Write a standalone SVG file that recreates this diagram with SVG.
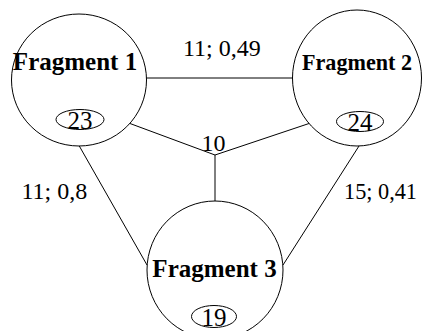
<svg xmlns="http://www.w3.org/2000/svg" width="422" height="331" viewBox="0 0 422 331">
  <style>
    .node { fill: #fff; stroke: #000; stroke-width: 1; }
    .badge { fill: none; stroke: #000; stroke-width: 1; }
    .edge { stroke: #000; stroke-width: 1; fill: none; }
    .title { font-family: "Liberation Serif", "Times New Roman", serif; font-weight: bold; font-size: 25px; text-anchor: middle; fill: #000; }
    .num { font-family: "Liberation Serif", "Times New Roman", serif; font-size: 25px; text-anchor: middle; fill: #000; }
    .lbl { font-family: "Liberation Serif", "Times New Roman", serif; font-size: 24px; fill: #000; }
  </style>
  <rect width="422" height="331" fill="#fff"/>
  <g id="connectors">
    <line class="edge" x1="146" y1="78" x2="293" y2="78"/>
    <line class="edge" x1="130" y1="123.5" x2="215" y2="155"/>
    <line class="edge" x1="309" y1="123.5" x2="215" y2="155"/>
    <line class="edge" x1="215" y1="155" x2="215" y2="202"/>
    <line class="edge" x1="79" y1="145.5" x2="147" y2="265"/>
    <line class="edge" x1="359" y1="146" x2="283" y2="265"/>
    <text class="lbl" x="183" y="56">11; 0,49</text>
    <text class="lbl" x="201.5" y="150.5">10</text>
    <text class="lbl" x="21.5" y="198.5">11; 0,8</text>
    <text class="lbl" x="344" y="198.5" textLength="73" lengthAdjust="spacingAndGlyphs">15; 0,41</text>
  </g>
  <g id="fragment1">
    <ellipse class="node" cx="79" cy="80" rx="67.5" ry="66"/>
    <text class="title" x="75" y="69.5">Fragment 1</text>
    <ellipse class="badge" cx="80" cy="119.5" rx="24" ry="10"/>
    <text class="num" x="80" y="128.5">23</text>
  </g>
  <g id="fragment2">
    <ellipse class="node" cx="357" cy="78" rx="64.5" ry="68"/>
    <text class="title" x="357" y="69.5" style="font-size:24px" textLength="110" lengthAdjust="spacingAndGlyphs">Fragment 2</text>
    <ellipse class="badge" cx="360" cy="121.5" rx="23.5" ry="10"/>
    <text class="num" x="360" y="130.5">24</text>
  </g>
  <g id="fragment3">
    <ellipse class="node" cx="215" cy="270" rx="68" ry="69"/>
    <text class="title" x="214.5" y="276.5">Fragment 3</text>
    <ellipse class="badge" cx="214" cy="316.5" rx="22.5" ry="11"/>
    <text class="num" x="214" y="325.5">19</text>
  </g>
</svg>
